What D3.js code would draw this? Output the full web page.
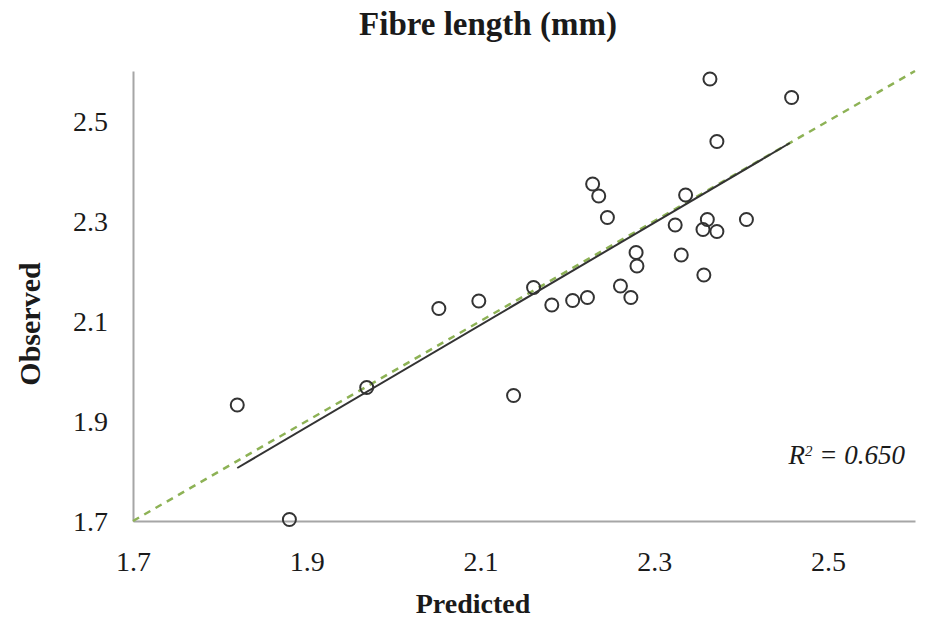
<!DOCTYPE html>
<html>
<head>
<meta charset="utf-8">
<script src="https://cdn.jsdelivr.net/npm/d3@7"></script>
<style>
  body { margin: 0; background: #fff; }
  text { font-family: "Liberation Serif", "Times New Roman", serif; fill: #1a1a1a; }
</style>
</head>
<body>
<div id="chart"></div>
<script>
// data
var predicted = [2.364, 2.458, 2.372, 2.229, 2.236, 2.246, 2.336, 2.324, 2.361, 2.356,
                 2.372, 2.406, 2.279, 2.280, 2.331, 2.357, 2.161, 2.261, 2.273, 2.182,
                 2.206, 2.223, 2.052, 2.098, 1.969, 1.820, 2.138, 1.880];
var observed  = [2.584, 2.547, 2.459, 2.374, 2.350, 2.307, 2.352, 2.292, 2.303, 2.283,
                 2.279, 2.303, 2.237, 2.210, 2.232, 2.192, 2.167, 2.170, 2.147, 2.132,
                 2.141, 2.147, 2.125, 2.140, 1.967, 1.932, 1.951, 1.703];
var xTicks = [1.7, 1.9, 2.1, 2.3, 2.5];
var yTicks = [1.7, 1.9, 2.1, 2.3, 2.5];
var fitLine = [[1.82, 1.806], [2.456, 2.456]];   // solid trend line ends
var oneToOne = [[1.7, 1.7], [2.6, 2.6]];          // dashed 1:1 line
var r2Label = "0.650";

var width = 932, height = 618;
var margin = {top: 71, right: 17, bottom: 97, left: 133};

var svg = d3.select("#chart")
  .append("svg")
    .attr("width", width)
    .attr("height", height);

var x = d3.scaleLinear()
    .domain([1.7, 2.6])
    .range([margin.left, width - margin.right]);

var y = d3.scaleLinear()
    .domain([1.7, 2.6])
    .range([height - margin.bottom, margin.top]);

// axes
var xAxis = svg.append("g")
    .attr("transform", "translate(0," + y(1.7) + ")")
    .call(d3.axisBottom(x).tickValues(xTicks).tickSize(0).tickPadding(30)
      .tickFormat(d3.format(".1f")));

var yAxis = svg.append("g")
    .attr("transform", "translate(" + x(1.7) + ",0)")
    .call(d3.axisLeft(y).tickValues(yTicks).tickSize(0).tickPadding(25)
      .tickFormat(d3.format(".1f")));

[xAxis, yAxis].forEach(function(a) {
  a.select(".domain").attr("stroke", "#a6a6a6").attr("stroke-width", 2);
  a.selectAll("text")
    .style("font-family", "'Liberation Serif', serif")
    .style("font-size", "28px")
    .attr("fill", "#1a1a1a");
});
yAxis.selectAll("text").attr("dy", "0.34em");

// 1:1 dashed line
var line = d3.line()
    .x(function(d) { return x(d[0]); })
    .y(function(d) { return y(d[1]); });

svg.append("path")
    .datum(oneToOne)
    .attr("d", line)
    .attr("fill", "none")
    .attr("stroke", "#8db255")
    .attr("stroke-width", 2.5)
    .attr("stroke-dasharray", "7,6");

// trend line
svg.append("path")
    .datum(fitLine)
    .attr("d", line)
    .attr("fill", "none")
    .attr("stroke", "#333")
    .attr("stroke-width", 2);

// points
svg.selectAll("circle")
    .data(predicted.map(function(p, i) { return {p: p, o: observed[i]}; }))
    .enter()
    .append("circle")
    .attr("cx", function(d) { return x(d.p); })
    .attr("cy", function(d) { return y(d.o); })
    .attr("r", 6.5)
    .attr("fill", "none")
    .attr("stroke", "#333")
    .attr("stroke-width", 2);

// title and labels
svg.append("text")
    .attr("x", 488)
    .attr("y", 35)
    .attr("text-anchor", "middle")
    .style("font-size", "33px")
    .style("font-weight", "bold")
    .text("Fibre length (mm)");

svg.append("text")
    .attr("x", 473)
    .attr("y", 613)
    .attr("text-anchor", "middle")
    .style("font-size", "28px")
    .style("font-weight", "bold")
    .text("Predicted");

svg.append("text")
    .attr("transform", "translate(40,324) rotate(-90)")
    .attr("text-anchor", "middle")
    .style("font-size", "30px")
    .style("font-weight", "bold")
    .text("Observed");

var r2 = svg.append("text")
    .attr("x", 905)
    .attr("y", 464)
    .attr("text-anchor", "end")
    .style("font-size", "27px")
    .style("font-style", "italic");
r2.append("tspan").text("R");
r2.append("tspan").attr("dy", -8).style("font-size", "15px").text("2");
r2.append("tspan").attr("dy", 8).text(" = " + r2Label);
</script>
</body>
</html>
